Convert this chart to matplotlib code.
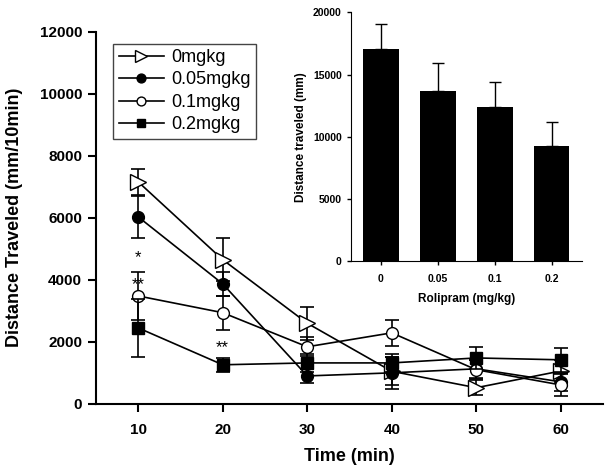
import matplotlib
matplotlib.use("Agg")
import matplotlib.pyplot as plt

plt.rcParams['font.family'] = ['Liberation Sans', 'DejaVu Sans']

time = [10, 20, 30, 40, 50, 60]
labels = ["0mgkg", "0.05mgkg", "0.1mgkg", "0.2mgkg"]
mean_0 = [7160, 4650, 2600, 1050, 520, 1060]
err_0 = [420, 700, 530, 450, 250, 350]
mean_005 = [6030, 3870, 900, 1000, 1130, 710]
err_005 = [680, 390, 220, 520, 300, 300]
mean_01 = [3480, 2940, 1840, 2290, 1100, 610]
err_01 = [780, 550, 300, 430, 300, 350]
mean_02 = [2450, 1260, 1320, 1320, 1480, 1420]
err_02 = [940, 230, 300, 300, 360, 390]

doses = ["0", "0.05", "0.1", "0.2"]
total = [17080, 13650, 12370, 9260]
total_err = [2010, 2280, 2010, 1930]

fig = plt.figure(figsize=(6.11, 4.74), dpi=100)
ax = fig.add_axes([0.157, 0.148, 0.830, 0.785])

styles = [
    dict(marker='>', mfc='white', mec='black', ms=11),
    dict(marker='o', mfc='black', mec='black', ms=8.5),
    dict(marker='o', mfc='white', mec='black', ms=8.5),
    dict(marker='s', mfc='black', mec='black', ms=8),
]
series = [(mean_0, err_0), (mean_005, err_005), (mean_01, err_01), (mean_02, err_02)]
handles = []
for (m, e), st, lab in zip(series, styles, labels):
    ax.errorbar(time, m, yerr=e, fmt='none', ecolor='black', capsize=5,
                capthick=1.2, elinewidth=1.2)
    ln, = ax.plot(time, m, color='black', lw=1.2, markeredgewidth=1.0,
                  label=lab, **st)
    handles.append(ln)

ax.text(10, 4700, "*", ha='center', va='center', fontsize=12)
ax.text(10, 3850, "**", ha='center', va='center', fontsize=12)
ax.text(20, 1800, "**", ha='center', va='center', fontsize=12)

ax.set_xlim(5, 65)
ax.set_ylim(0, 12000)
ax.set_xticks(time)
ax.set_yticks(range(0, 12001, 2000))
for s in ['top', 'right']:
    ax.spines[s].set_visible(False)
for s in ['left', 'bottom']:
    ax.spines[s].set_linewidth(1.5)
ax.tick_params(width=1.5, length=6, labelsize=11)
ax.tick_params(axis='x', pad=8)
ax.tick_params(axis='y', pad=4)
for t in ax.get_xticklabels() + ax.get_yticklabels():
    t.set_fontweight('bold')
ax.set_xlabel("Time (min)", fontsize=13, fontweight='bold', labelpad=8)
ax.set_ylabel("Distance Traveled (mm/10min)", fontsize=13, fontweight='bold',
              labelpad=12)

leg = ax.legend(handles=handles, loc='upper left', bbox_to_anchor=(0.034, 0.968),
                borderaxespad=0, fontsize=13, frameon=True, fancybox=False,
                handlelength=2.5, handletextpad=0.4, labelspacing=0.3,
                borderpad=0.3, markerscale=0.75, edgecolor='#444444',
                framealpha=1)
leg.get_frame().set_linewidth(1.0)

# inset
ins = fig.add_axes([0.574, 0.449, 0.378, 0.525])
xpos = range(len(doses))
ins.bar(xpos, total, width=0.63, color='black')
ins.errorbar(xpos, total, yerr=[[0]*4, total_err], fmt='none', ecolor='black',
             capsize=4, elinewidth=1.0, capthick=1.0)
ins.set_xlim(-0.53, 3.53)
ins.set_ylim(0, 20000)
ins.set_xticks(list(xpos))
ins.set_xticklabels(doses)
ins.set_yticks(range(0, 20001, 5000))
for s in ['top', 'right']:
    ins.spines[s].set_visible(False)
ins.tick_params(labelsize=7.5, width=1.0, length=3)
ins.tick_params(axis='x', pad=6)
for t in ins.get_xticklabels() + ins.get_yticklabels():
    t.set_fontweight('bold')
ins.set_xlabel("Rolipram (mg/kg)", fontsize=8.5, fontweight='bold', labelpad=7)
ins.set_ylabel("Distance traveled (mm)", fontsize=8.5, fontweight='bold')

fig.savefig("out.png", dpi=100)
